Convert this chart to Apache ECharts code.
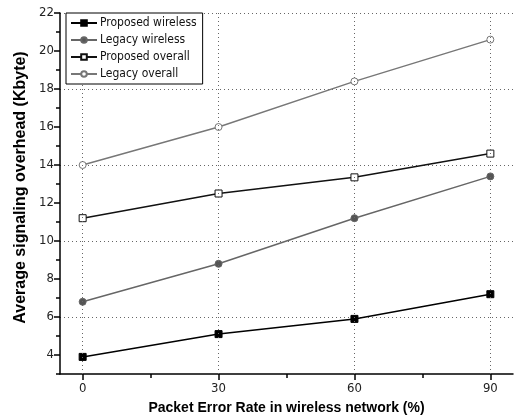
<!DOCTYPE html>
<html><head><meta charset="utf-8">
<script src="https://cdn.jsdelivr.net/npm/echarts@6/dist/echarts.min.js"></script>
<style>html,body{margin:0;padding:0;background:#fff}#c{width:514px;height:420px}</style>
</head><body><div id="c"></div>
<script>
const categories = [0, 30, 60, 90];
const proposedWireless = [3.9, 5.1, 5.9, 7.2];
const legacyWireless = [6.8, 8.8, 11.2, 13.4];
const proposedOverall = [11.2, 12.5, 13.35, 14.6];
const legacyOverall = [14.0, 16.0, 18.4, 20.6];
const yMajorTicks = [4, 6, 8, 10, 12, 14, 16, 18, 20, 22];
const yMinorTicks = [3, 5, 7, 9, 11, 13, 15, 17, 19, 21];
const xMajorTicks = [0, 30, 60, 90];
const xMinorTicks = [15, 45, 75];

const narrow = "'Liberation Sans Narrow','DejaVu Sans Condensed',sans-serif";
const pair = arr => categories.map((c, i) => [c, arr[i]]);
const chart = echarts.init(document.getElementById('c'));
const grid = {left: 60, right: 1, top: 13, bottom: 44};
function mk(name, data, color, symbol, fill, size) {
  return {
    name, type: 'line', data: pair(data), symbol, symbolSize: size, z: 3,
    lineStyle: {color, width: 1.5},
    itemStyle: {color: fill, borderColor: color, borderWidth: 1},
    emphasis: {disabled: true}, animation: false
  };
}
chart.setOption({
  backgroundColor: '#fff',
  animation: false,
  grid,
  legend: {
    left: 66, top: 13, orient: 'vertical', itemWidth: 26, itemHeight: 7, itemGap: 5,
    borderColor: '#000', borderWidth: 1, padding: [4, 6, 4, 4], backgroundColor: '#fff', z: 10,
    textStyle: {fontFamily: narrow, fontSize: 12, color: '#111', padding: [0, 0, 0, -2]},
    data: ['Proposed wireless', 'Legacy wireless', 'Proposed overall', 'Legacy overall']
  },
  xAxis: [{
    type: 'value', min: -5, max: 95, interval: 5,
    name: 'Packet Error Rate in wireless network (%)', nameLocation: 'middle', nameGap: 27,
    nameTextStyle: {fontFamily: 'Liberation Sans', fontWeight: 'bold', fontSize: 14, color: '#000'},
    axisLine: {onZero: false, lineStyle: {color: '#000', width: 1.5}},
    axisTick: {customValues: xMajorTicks, length: 6, lineStyle: {color: '#000', width: 1.5}},
    axisLabel: {customValues: xMajorTicks, fontFamily: narrow, fontSize: 13, color: '#222', margin: 8},
    splitLine: {show: false}
  }, {
    type: 'value', min: -5, max: 95, position: 'bottom', show: true,
    axisLine: {show: false, onZero: false},
    axisTick: {customValues: xMinorTicks, length: 4, lineStyle: {color: '#000', width: 1.5}},
    axisLabel: {show: false}, splitLine: {show: false}
  }],
  yAxis: [{
    type: 'value', min: 3, max: 22, interval: 1,
    name: 'Average signaling overhead (Kbyte)', nameLocation: 'middle', nameGap: 29,
    nameTextStyle: {fontFamily: 'Liberation Sans', fontWeight: 'bold', fontSize: 16, color: '#000', padding: [0, 0, 0, 12]},
    axisLine: {show: true, onZero: false, lineStyle: {color: '#000', width: 1.5}},
    axisTick: {customValues: yMajorTicks, length: 6, lineStyle: {color: '#000', width: 1.5}},
    axisLabel: {customValues: yMajorTicks, fontFamily: narrow, fontSize: 13, color: '#222', margin: 6},
    splitLine: {show: true, lineStyle: {type: [1, 3], width: 1, color: ['rgba(0,0,0,0)', '#666']}}
  }, {
    type: 'value', min: 3, max: 22, position: 'left', show: true,
    axisLine: {show: false, onZero: false},
    axisTick: {customValues: yMinorTicks, length: 4, lineStyle: {color: '#000', width: 1.5}},
    axisLabel: {show: false}, splitLine: {show: false}
  }],
  series: [
    {
      type: 'line', data: [], silent: true, z: 1,
      markLine: {
        silent: true, symbol: 'none', animation: false, label: {show: false},
        lineStyle: {type: [1, 3], width: 1, color: '#666'},
        emphasis: {disabled: true},
        data: xMajorTicks.map(v => ({xAxis: v}))
      }
    },
    mk('Proposed wireless', proposedWireless, '#000', 'rect', '#000', 7),
    mk('Legacy wireless', legacyWireless, '#666', 'circle', '#555', 7),
    mk('Proposed overall', proposedOverall, '#111', 'rect', '#fff', 7),
    mk('Legacy overall', legacyOverall, '#777', 'circle', '#fff', 7)
  ]
});
</script></body></html>
